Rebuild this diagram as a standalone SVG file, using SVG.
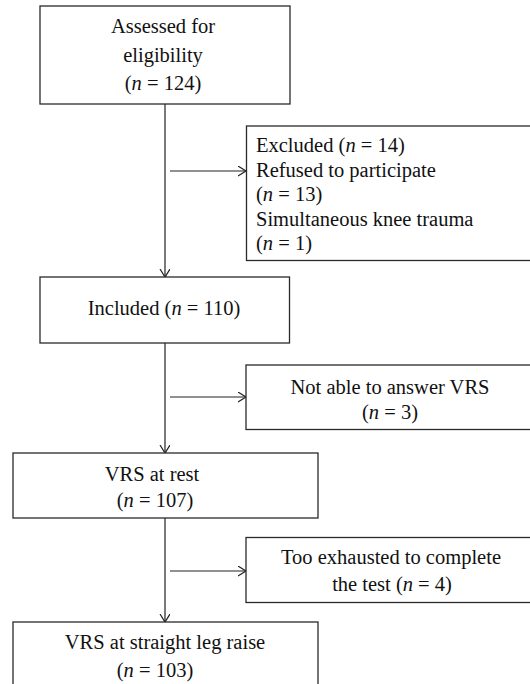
<svg xmlns="http://www.w3.org/2000/svg" width="530" height="684" viewBox="0 0 530 684">
<defs>
<marker id="arr" markerWidth="10" markerHeight="12" refX="8.5" refY="5" orient="auto" markerUnits="userSpaceOnUse">
<path d="M0.5,0 L8.5,5 L0.5,10" fill="none" stroke="#222" stroke-width="1.2"/>
</marker>
<style>
.box{fill:#fff;stroke:#2a2a2a;stroke-width:1.3}
.t{font-family:"Liberation Serif","Times New Roman",serif;font-size:20.5px;fill:#111}
.c{text-anchor:middle}
.i{font-style:italic}
.ln{stroke:#222;stroke-width:1.2;fill:none}
</style>
</defs>
<rect width="530" height="684" fill="#fff"/>
<g id="connectors">
<line class="ln" x1="165" y1="104" x2="165" y2="277" marker-end="url(#arr)"/>
<line class="ln" x1="170" y1="171" x2="246" y2="171" marker-end="url(#arr)"/>
<line class="ln" x1="165" y1="343" x2="165" y2="453" marker-end="url(#arr)"/>
<line class="ln" x1="170" y1="397" x2="246" y2="397" marker-end="url(#arr)"/>
<line class="ln" x1="165" y1="518" x2="165" y2="622" marker-end="url(#arr)"/>
<line class="ln" x1="170" y1="571" x2="246" y2="571" marker-end="url(#arr)"/>
</g>
<g id="assessed">
<rect class="box" x="40" y="6" width="250" height="98"/>
<text class="t c" x="163" y="33">Assessed for</text>
<text class="t c" x="163" y="62">eligibility</text>
<text class="t c" x="163" y="90">(<tspan class="i">n</tspan> = 124)</text>
</g>
<g id="excluded">
<rect class="box" x="246.5" y="126" width="300" height="134.5"/>
<text class="t" x="256" y="152">Excluded (<tspan class="i">n</tspan> = 14)</text>
<text class="t" x="256" y="176.5">Refused to participate</text>
<text class="t" x="256" y="201">(<tspan class="i">n</tspan> = 13)</text>
<text class="t" x="256" y="225.5">Simultaneous knee trauma</text>
<text class="t" x="256" y="250">(<tspan class="i">n</tspan> = 1)</text>
</g>
<g id="included">
<rect class="box" x="40" y="277" width="249.5" height="66"/>
<text class="t c" x="164" y="315">Included (<tspan class="i">n</tspan> = 110)</text>
</g>
<g id="notable">
<rect class="box" x="246" y="365" width="300" height="64.5"/>
<text class="t c" x="390" y="393.5">Not able to answer VRS</text>
<text class="t c" x="390" y="418.5">(<tspan class="i">n</tspan> = 3)</text>
</g>
<g id="rest">
<rect class="box" x="13" y="453" width="305" height="65"/>
<text class="t c" x="152" y="480.5">VRS at rest</text>
<text class="t c" x="155" y="506.5">(<tspan class="i">n</tspan> = 107)</text>
</g>
<g id="exhausted">
<rect class="box" x="246" y="537.5" width="300" height="65"/>
<text class="t c" x="391" y="564">Too exhausted to complete</text>
<text class="t c" x="392" y="590.5">the test (<tspan class="i">n</tspan> = 4)</text>
</g>
<g id="slr">
<rect class="box" x="13" y="622" width="305" height="80"/>
<text class="t c" x="165" y="648.5">VRS at straight leg raise</text>
<text class="t c" x="155" y="676.5">(<tspan class="i">n</tspan> = 103)</text>
</g>
</svg>
